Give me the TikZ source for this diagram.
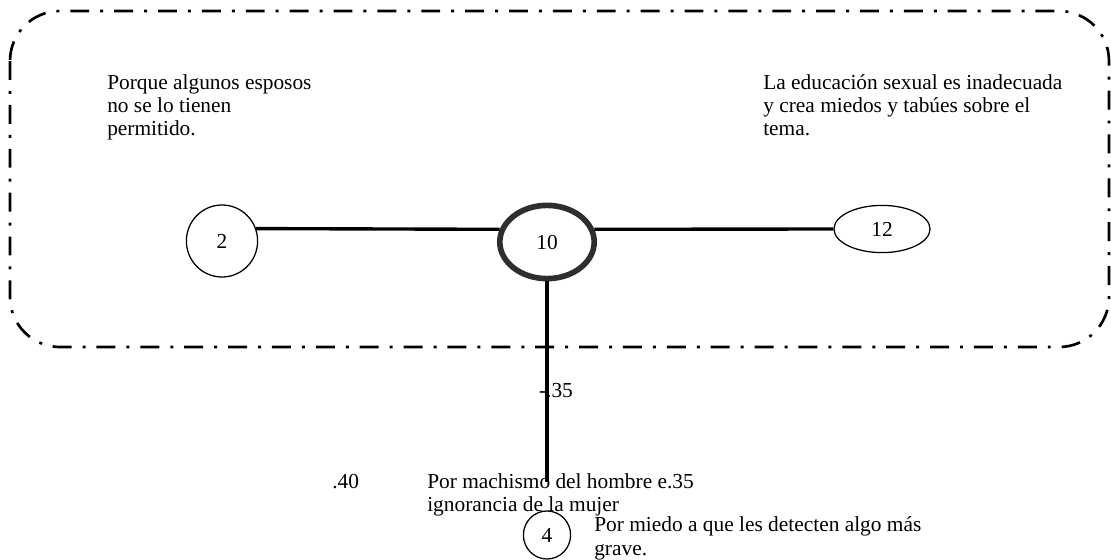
\documentclass[tikz,border=0pt]{standalone}
\usepackage{fontspec}
\setmainfont{Liberation Serif}
\usetikzlibrary{shapes.geometric,positioning}
\definecolor{ringgray}{HTML}{2E2E2E}

\begin{document}
\begin{tikzpicture}[
			x=0.025cm,y=-0.025cm,
			font=\fontsize{15.2}{16.6}\selectfont,
			nodo/.style={draw,line width=0.9pt,ellipse,inner sep=0pt},
			central/.style={nodo,draw=ringgray,line width=4pt},
			lin/.style={line width=2.4pt},
			nota/.style={align=left,inner sep=0pt,anchor=north west},
			valor/.style={inner sep=0pt,anchor=base},
			marco/.style={line width=1.9pt,rounded corners=1.25cm,dash pattern=on 13.5pt off 7.8pt on 2.1pt off 7.8pt}
			]
			\useasboundingbox (0,0) rectangle (1111,559);
			\draw[marco] (10,11) rectangle (1109,347);
			\node[nodo,minimum width=1.78cm,minimum height=1.8cm] (n2) at (222,241) {2};
			\node[central,minimum width=2.36cm,minimum height=1.83cm] (n10) at (547,242) {10};
			\node[nodo,minimum width=2.4cm,minimum height=1.18cm] (n12) at (882,229) {12};
			\node[nodo,minimum width=1.18cm,minimum height=1.2cm] (n4) at (547,535) {4};
			\coordinate (cola) at (547,482);
			\draw[lin] (n2.20) -- (n10.165);
			\draw[lin] (n10.15) -- (n12.west);
			\draw[lin] (n10.south) -- (cola);
			\node[nota] (t2) at (107,74) {Porque algunos esposos\\no se lo tienen\\permitido.};
			\node[nota] (t12) at (763,74) {La educación sexual es inadecuada\\y crea miedos y tabúes sobre el\\tema.};
			\node[valor] (v35) at (556,397) {-.35};
			\node[valor,anchor=base west] (v40) at (332,488) {.40};
			\node[nota] (t10) at (427,473) {Por machismo del hombre e.35\\ignorancia de la mujer};
			\node[nota,font=\fontsize{15.2}{17.4}\selectfont] (t4) at (594,516) {Por miedo a que les detecten algo más\\grave.};
		\end{tikzpicture}
\end{document}
